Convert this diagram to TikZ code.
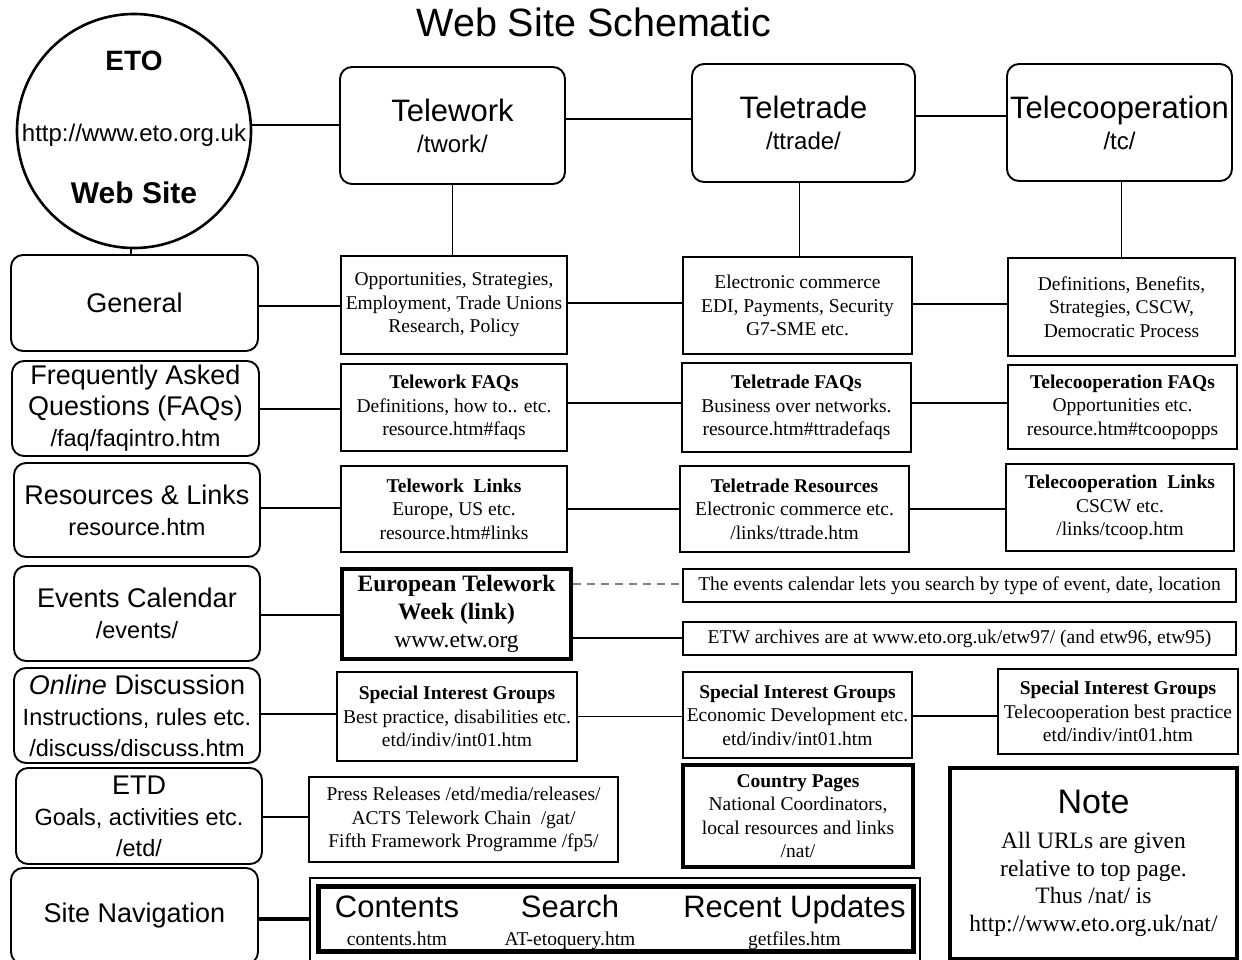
\documentclass[tikz,border=0pt]{standalone}
\usepackage{fontspec}
\setmainfont{Liberation Serif}
\newfontfamily\arial{Liberation Sans}
\newcommand\fs[2]{\fontsize{#1}{#2}\selectfont}
\begin{document}
\begin{tikzpicture}[x=1pt,y=-1pt,
  wh/.style 2 args={minimum width=#1pt,minimum height=#2pt},
  rbox/.style={draw,rounded corners=12pt,line width=1.9pt,inner sep=0pt,align=center,font=\arial\fs{27}{31}},
  hbox/.style={rbox,font=\arial\fs{31}{31}},
  sbox/.style={draw,line width=1.8pt,inner sep=0pt,align=center,font=\fs{19.5}{23.5}},
  tbox/.style={sbox,line width=4pt},
  conn/.style={line width=1.9pt},
  ctext/.style={inner sep=0pt,anchor=base,font=\arial},
  navtext/.style={inner sep=0pt,anchor=north,align=center,font=\arial\fs{31}{28}}
]
\useasboundingbox (0,0) rectangle (1242,959);
\fill[white] (0,0) rectangle (1242,959);
\clip (0,0) rectangle (1242,959);

% title
\node[font=\arial\fs{39.5}{40},inner sep=0pt] (title) at (594,22) {Web Site Schematic};

% ETO circle
\node[draw,circle,line width=2.6pt,minimum size=234pt,inner sep=0pt] (eto) at (134,131) {};
\node[ctext,font=\arial\bfseries\fs{28}{30}] (etoA) at (134,70) {ETO};
\node[ctext,font=\arial\fs{24}{28}] (etoB) at (134,141.5) {http://www.eto.org.uk};
\node[ctext,font=\arial\bfseries\fs{30}{32}] (etoC) at (134,203.5) {Web Site};

% top row
\node[hbox,wh={225}{117}] (tw) at (452.5,125.5) {Telework\\{\fs{24}{31}/twork/}};
\node[hbox,wh={223}{118}] (tt) at (803.5,123) {Teletrade\\{\fs{24}{31}/ttrade/}};
\node[hbox,wh={225}{117}] (tc) at (1119.5,122.5) {Telecooperation\\{\fs{24}{31}/tc/}};

% left column
\node[rbox,wh={247}{96}] (gen) at (134.5,303) {General};
\node[rbox,wh={247}{95}] (faq) at (135.5,408.5) {Frequently Asked\\Questions (FAQs)\\{\fs{23.5}{28}/faq/faqintro.htm}};
\node[rbox,wh={246}{94}] (res) at (137,510) {Resources \& Links\\{\fs{23.5}{28}resource.htm}};
\node[rbox,wh={246}{95}] (ev) at (137,613.5) {Events Calendar\\{\fs{23.5}{28}/events/}};
\node[rbox,wh={246}{95}] (onl) at (137,715.5) {\textit{Online} Discussion\\{\fs{23.5}{28}Instructions, rules etc.}\\{\fs{23.5}{28}/discuss/discuss.htm}};
\node[rbox,wh={246}{96}] (etd) at (139,816) {ETD\\{\fs{23.5}{28}Goals, activities etc.}\\{\fs{23.5}{28}/etd/}};
\node[rbox,wh={247}{96}] (nav) at (134.5,916) {Site Navigation};

% row 1
\node[sbox,wh={226}{98}] (twlist) at (454,305) {Opportunities, Strategies,\\Employment, Trade Unions\\Research, Policy};
\node[sbox,wh={229}{97}] (ttlist) at (797.5,305.5) {Electronic commerce\\EDI, Payments, Security\\G7-SME etc.};
\node[sbox,wh={227}{98}] (tclist) at (1121.5,307) {Definitions, Benefits,\\Strategies, CSCW,\\Democratic Process};

% row 2
\node[sbox,wh={226}{87}] (twfaq) at (454,407.5) {\textbf{Telework FAQs}\\Definitions, how to.. etc.\\resource.htm\#faqs};
\node[sbox,wh={229}{89}] (ttfaq) at (796.5,407.5) {\textbf{Teletrade FAQs}\\Business over networks.\\resource.htm\#ttradefaqs};
\node[sbox,wh={229}{84}] (tcfaq) at (1122.5,407) {\textbf{Telecooperation FAQs}\\Opportunities etc.\\resource.htm\#tcoopopps};

% row 3
\node[sbox,wh={226}{86}] (twlinks) at (454,509) {\textbf{Telework~ Links}\\Europe, US etc.\\resource.htm\#links};
\node[sbox,wh={229}{86}] (ttres) at (794.5,509) {\textbf{Teletrade Resources}\\Electronic commerce etc.\\/links/ttrade.htm};
\node[sbox,wh={228}{87}] (tclinks) at (1120,507.5) {\textbf{Telecooperation~ Links}\\CSCW etc.\\/links/tcoop.htm};

% row 4
\node[tbox,wh={229}{90},font=\fs{23.5}{28}] (etw) at (456.5,614) {\textbf{European Telework}\\\textbf{Week (link)}\\www.etw.org};
\node[sbox,wh={553}{33}] (evnote) at (959.5,585.5) {The events calendar lets you search by type of event, date, location};
\node[sbox,wh={553}{33}] (arch) at (959.5,638.5) {ETW archives are at www.eto.org.uk/etw97/ (and etw96, etw95)};

% row 5
\node[sbox,wh={240}{89}] (sig1) at (457,716.5) {\textbf{Special Interest Groups}\\Best practice, disabilities etc.\\etd/indiv/int01.htm};
\node[sbox,wh={229}{86}] (sig2) at (797.5,715) {\textbf{Special Interest Groups}\\Economic Development etc.\\etd/indiv/int01.htm};
\node[sbox,wh={240}{85}] (sig3) at (1118,711.5) {\textbf{Special Interest Groups}\\Telecooperation best practice\\etd/indiv/int01.htm};

% row 6
\node[sbox,wh={309}{85}] (press) at (463.5,819.5) {Press Releases /etd/media/releases/\\ACTS Telework Chain~ /gat/\\Fifth Framework Programme /fp5/};
\node[tbox,wh={230}{102}] (country) at (798,816) {\textbf{Country Pages}\\National Coordinators,\\local resources and links\\/nat/};
\node[tbox,wh={287}{191},font=\fs{23.5}{27.5}] (note) at (1093.5,863) {{\arial\fs{34}{34}Note}\\[8pt]All URLs are given\\relative to top page.\\Thus /nat/ is\\http://www.eto.org.uk/nat/};

% navigation bar
\node[draw,line width=1.2pt,wh={610}{88},inner sep=0pt] (navouter) at (615,922) {};
\node[draw,line width=5pt,wh={595}{65},inner sep=0pt] (navinner) at (615.5,918.5) {};
\node[navtext] (navc) at (397,895) {Contents\vphantom{h}\\{\rmfamily\fs{19.5}{24}contents.htm}};
\node[navtext] (navs) at (570,895) {Search\vphantom{h}\\{\rmfamily\fs{19.5}{24}AT-etoquery.htm}};
\node[navtext] (navr) at (794.5,895) {Recent Updates\vphantom{h}\\{\rmfamily\fs{19.5}{24}getfiles.htm}};

% connectors: top
\draw[conn] (eto.3.9) -- (eto.3.9 -| tw.west);
\draw[conn] ([yshift=6.5pt]tw.east) -- ([yshift=6.5pt]tw.east -| tt.west);
\draw[conn] ([yshift=7pt]tt.east) -- ([yshift=7pt]tt.east -| tc.west);
\draw[conn] ([xshift=-3pt]eto.south) -- ([xshift=-3pt]eto.south |- gen.north);
\draw[conn] (tw.south) -- (tw.south |- twlist.north);
\draw[conn] ([xshift=-4pt]tt.south) -- ([xshift=-4pt]tt.south |- ttlist.north);
\draw[conn] ([xshift=2pt]tc.south) -- ([xshift=2pt]tc.south |- tclist.north);

% rows
\draw[conn] ([yshift=-3pt]gen.east) -- ([yshift=-3pt]gen.east -| twlist.west);
\draw[conn] ([yshift=2pt]twlist.east) -- ([yshift=2pt]twlist.east -| ttlist.west);
\draw[conn] ([yshift=1.5pt]ttlist.east) -- ([yshift=1.5pt]ttlist.east -| tclist.west);

\draw[conn] ([yshift=-0.5pt]faq.east) -- ([yshift=-0.5pt]faq.east -| twfaq.west);
\draw[conn] ([yshift=4.5pt]twfaq.east) -- ([yshift=4.5pt]twfaq.east -| ttfaq.west);
\draw[conn] ([yshift=4.5pt]ttfaq.east) -- ([yshift=4.5pt]ttfaq.east -| tcfaq.west);

\draw[conn] ([yshift=2pt]res.east) -- ([yshift=2pt]res.east -| twlinks.west);
\draw[conn] (twlinks.east) -- (twlinks.east -| ttres.west);
\draw[conn] (ttres.east) -- (ttres.east -| tclinks.west);

\draw[conn] ([yshift=-1.5pt]ev.east) -- ([yshift=-1.5pt]ev.east -| etw.west);
\draw[line width=1.2pt,gray,dash pattern=on 8pt off 6pt] ([yshift=30pt]etw.east) -- ([yshift=30pt]etw.east -| evnote.west);
\draw[conn] ([yshift=-24pt]etw.east) -- ([yshift=-24pt]etw.east -| arch.west);

\draw[conn] ([yshift=1.5pt]onl.east) -- ([yshift=1.5pt]onl.east -| sig1.west);
\draw[conn] (sig1.east) -- (sig1.east -| sig2.west);
\draw[conn] ([yshift=-1pt]sig2.east) -- ([yshift=-1pt]sig2.east -| sig3.west);

\draw[conn] ([yshift=-1pt]etd.east) -- ([yshift=-1pt]etd.east -| press.west);
\draw[line width=3.5pt] ([yshift=-3pt]nav.east) -- ([yshift=-3pt]nav.east -| navouter.west);
\end{tikzpicture}
\end{document}
